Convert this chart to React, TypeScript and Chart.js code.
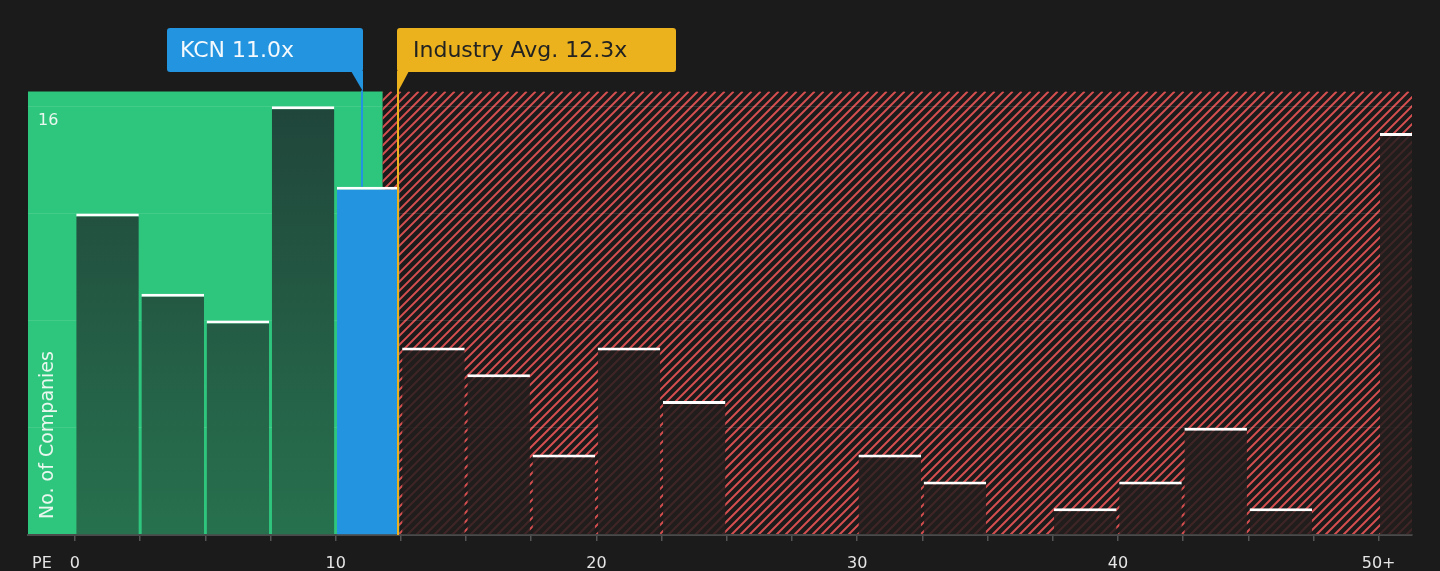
import React, { useEffect, useRef } from "react";
import { Chart, registerables } from "chart.js";

Chart.register(...registerables);

// ---- data ----
const BIN_STARTS = [0, 2.5, 5, 7.5, 10, 12.5, 15, 17.5, 20, 22.5, 25, 27.5, 30, 32.5, 35, 37.5, 40, 42.5, 45, 47.5, 50];
const COUNTS = [12, 9, 8, 16, 13, 7, 6, 3, 7, 5, 0, 0, 3, 2, 0, 1, 2, 4, 1, 0, 15];
const BIN_WIDTH = 2.5;
const X_TICKS = [0, 2.5, 5, 7.5, 10, 12.5, 15, 17.5, 20, 22.5, 25, 27.5, 30, 32.5, 35, 37.5, 40, 42.5, 45, 47.5, 50];
const X_TICK_LABELS: Record<string, string> = { "0": "0", "10": "10", "20": "20", "30": "30", "40": "40", "50": "50+" };
const X_RANGE = [-1.8, 51.28];
const Y_TICKS = [0, 4, 8, 12, 16];
const Y_RANGE = [0, 16.55];
const Y_LABEL_SHOWN = 16;
const COMPANY = "KCN";
const COMPANY_PE = 11.0;
const INDUSTRY_AVG = 12.3;
const GOOD_RANGE_END = 11.8;
const X_AXIS_NAME = "PE";
const Y_AXIS_NAME = "No. of Companies";

// ---- style ----
const BG = "#1b1b1b";
const GREEN = "#2ec67d";
const HATCH = "#d64f50";
const BLUE = "#2394df";
const ORANGE = "#ebb21d";
const FONT = '"DejaVu Sans", sans-serif';

const bgPlugin = {
  id: "bgRegions",
  beforeDraw(chart: any) {
    const { ctx, chartArea: a, scales } = chart;
    const x = scales.x;
    ctx.save();
    ctx.fillStyle = BG;
    ctx.fillRect(0, 0, chart.width, chart.height);
    const gx = x.getPixelForValue(GOOD_RANGE_END);
    ctx.fillStyle = GREEN;
    ctx.fillRect(a.left, a.top, gx - a.left, a.bottom - a.top);
    ctx.beginPath();
    ctx.rect(gx, a.top, a.right - gx, a.bottom - a.top);
    ctx.clip();
    ctx.strokeStyle = HATCH;
    ctx.lineWidth = 2;
    const h = a.bottom - a.top;
    ctx.beginPath();
    for (let k = gx - h; k < a.right + 10; k += 9) {
      ctx.moveTo(k, a.bottom);
      ctx.lineTo(k + h, a.top);
    }
    ctx.stroke();
    ctx.restore();
  },
};

function roundRect(ctx: CanvasRenderingContext2D, x: number, y: number, w: number, h: number, r: number) {
  ctx.beginPath();
  ctx.moveTo(x + r, y);
  ctx.lineTo(x + w - r, y);
  ctx.quadraticCurveTo(x + w, y, x + w, y + r);
  ctx.lineTo(x + w, y + h - r);
  ctx.quadraticCurveTo(x + w, y + h, x + w - r, y + h);
  ctx.lineTo(x + r, y + h);
  ctx.quadraticCurveTo(x, y + h, x, y + h - r);
  ctx.lineTo(x, y + r);
  ctx.quadraticCurveTo(x, y, x + r, y);
  ctx.closePath();
}

const annotationPlugin = {
  id: "annotations",
  afterDraw(chart: any) {
    const { ctx, chartArea: a, scales } = chart;
    const x = scales.x;
    const y = scales.y;
    const boxTop = 28;
    const boxBot = 72;
    ctx.save();

    // company marker
    const kcnBin = BIN_STARTS.findIndex((s) => COMPANY_PE >= s && COMPANY_PE < s + BIN_WIDTH);
    const kx = Math.round(x.getPixelForValue(COMPANY_PE)) + 1;
    const kLeft = kx - 196;
    ctx.fillStyle = BLUE;
    roundRect(ctx, kLeft, boxTop, kx - kLeft, boxBot - boxTop, 3);
    ctx.fill();
    ctx.beginPath();
    ctx.moveTo(kx - 12, boxBot - 1);
    ctx.lineTo(kx, boxBot - 1);
    ctx.lineTo(kx, a.top);
    ctx.closePath();
    ctx.fill();
    ctx.strokeStyle = BLUE;
    ctx.lineWidth = 2;
    ctx.beginPath();
    ctx.moveTo(kx - 1, a.top - 1);
    ctx.lineTo(kx - 1, y.getPixelForValue(COUNTS[kcnBin]));
    ctx.stroke();
    ctx.font = `22px ${FONT}`;
    ctx.textBaseline = "middle";
    ctx.textAlign = "left";
    ctx.fillStyle = "#f3f9fd";
    ctx.fillText(`${COMPANY} ${COMPANY_PE.toFixed(1)}x`, kLeft + 13, 51);

    // industry marker
    const ix = Math.round(x.getPixelForValue(INDUSTRY_AVG)) + 2;
    const iLeft = ix - 1;
    ctx.fillStyle = ORANGE;
    roundRect(ctx, iLeft, boxTop, 279, boxBot - boxTop, 3);
    ctx.fill();
    ctx.beginPath();
    ctx.moveTo(iLeft, boxBot - 1);
    ctx.lineTo(iLeft + 12, boxBot - 1);
    ctx.lineTo(iLeft, a.top + 2);
    ctx.closePath();
    ctx.fill();
    ctx.strokeStyle = ORANGE;
    ctx.lineWidth = 2;
    ctx.beginPath();
    ctx.moveTo(ix, boxBot - 1);
    ctx.lineTo(ix, a.bottom);
    ctx.stroke();
    ctx.fillStyle = "#222222";
    ctx.fillText(`Industry Avg. ${INDUSTRY_AVG.toFixed(1)}x`, iLeft + 16, 51);

    // y label & title
    ctx.font = `16px ${FONT}`;
    ctx.fillStyle = "#e9f7ef";
    ctx.textAlign = "left";
    ctx.fillText(String(Y_LABEL_SHOWN), a.left + 10, y.getPixelForValue(Y_LABEL_SHOWN) + 15);

    ctx.save();
    ctx.translate(a.left + 20, a.bottom - 16);
    ctx.rotate(-Math.PI / 2);
    ctx.font = `19px ${FONT}`;
    ctx.fillStyle = "#e9f7ef";
    ctx.textAlign = "left";
    ctx.textBaseline = "middle";
    ctx.fillText(Y_AXIS_NAME, 0, 0);
    ctx.restore();

    // x axis name
    ctx.font = `16px ${FONT}`;
    ctx.fillStyle = "#e6e6e6";
    ctx.textAlign = "center";
    ctx.textBaseline = "middle";
    ctx.fillText(X_AXIS_NAME, 42, a.bottom + 29);

    ctx.restore();
  },
};

export default function App() {
  const ref = useRef<HTMLCanvasElement>(null);

  useEffect(() => {
    document.body.style.margin = "0";
    document.body.style.background = BG;
    Chart.defaults.font.family = FONT;

    const kcnBin = BIN_STARTS.findIndex((s) => COMPANY_PE >= s && COMPANY_PE < s + BIN_WIDTH);
    const data = BIN_STARTS.map((s, i) => ({ x: s + BIN_WIDTH / 2, y: COUNTS[i], i })).filter((d) => d.y > 0);

    const chart = new Chart(ref.current as HTMLCanvasElement, {
      type: "bar",
      data: {
        datasets: [
          {
            data: data as any,
            barPercentage: 0.96,
            categoryPercentage: 1,
            borderWidth: { top: 3, right: 0, bottom: 0, left: 0 },
            borderColor: "#ffffff",
            borderSkipped: false,
            backgroundColor: (c: any) => {
              const raw = c.raw;
              if (!raw) return "transparent";
              if (raw.i === kcnBin) return BLUE;
              const end = BIN_STARTS[raw.i] + BIN_WIDTH;
              if (end <= GOOD_RANGE_END) {
                const area = c.chart.chartArea;
                if (!area) return "#25573f";
                const g = c.chart.ctx.createLinearGradient(0, area.top, 0, area.bottom);
                g.addColorStop(0, "#20443a");
                g.addColorStop(1, "#27714e");
                return g;
              }
              return "rgba(34,30,30,0.84)";
            },
          } as any,
        ],
      },
      options: {
        animation: false,
        responsive: true,
        maintainAspectRatio: false,
        layout: { padding: { left: 28, right: 28, top: 91.5, bottom: 0 } },
        plugins: { legend: { display: false }, tooltip: { enabled: false } },
        scales: {
          x: {
            type: "linear",
            min: X_RANGE[0],
            max: X_RANGE[1],
            offset: false,
            afterBuildTicks: (s: any) => {
              s.ticks = X_TICKS.map((v) => ({ value: v }));
            },
            afterFit: (s: any) => {
              s.height = 36;
            },
            grid: {
              display: true,
              drawOnChartArea: false,
              drawTicks: true,
              tickLength: 6,
              color: "#555555",
              lineWidth: 1.5,
              offset: false,
            },
            border: { display: true, color: "#4a4a4a", width: 2 },
            ticks: {
              color: "#e6e6e6",
              font: { size: 16, family: FONT },
              padding: 13,
              maxRotation: 0,
              autoSkip: false,
              callback: (v: any) => X_TICK_LABELS[String(v)] ?? "",
            },
          },
          y: {
            type: "linear",
            min: Y_RANGE[0],
            max: Y_RANGE[1],
            afterBuildTicks: (s: any) => {
              s.ticks = Y_TICKS.map((v) => ({ value: v }));
            },
            afterFit: (s: any) => {
              s.width = 0;
            },
            ticks: { display: false },
            grid: {
              drawTicks: false,
              color: (c: any) => (c.tick && c.tick.value === 0 ? "transparent" : "rgba(255,255,255,0.1)"),
              lineWidth: 1,
            },
            border: { display: false },
          },
        },
      } as any,
      plugins: [bgPlugin, annotationPlugin],
    });
    return () => chart.destroy();
  }, []);

  return (
    <div style={{ position: "relative", width: 1440, height: 571, background: BG }}>
      <canvas ref={ref} />
    </div>
  );
}
